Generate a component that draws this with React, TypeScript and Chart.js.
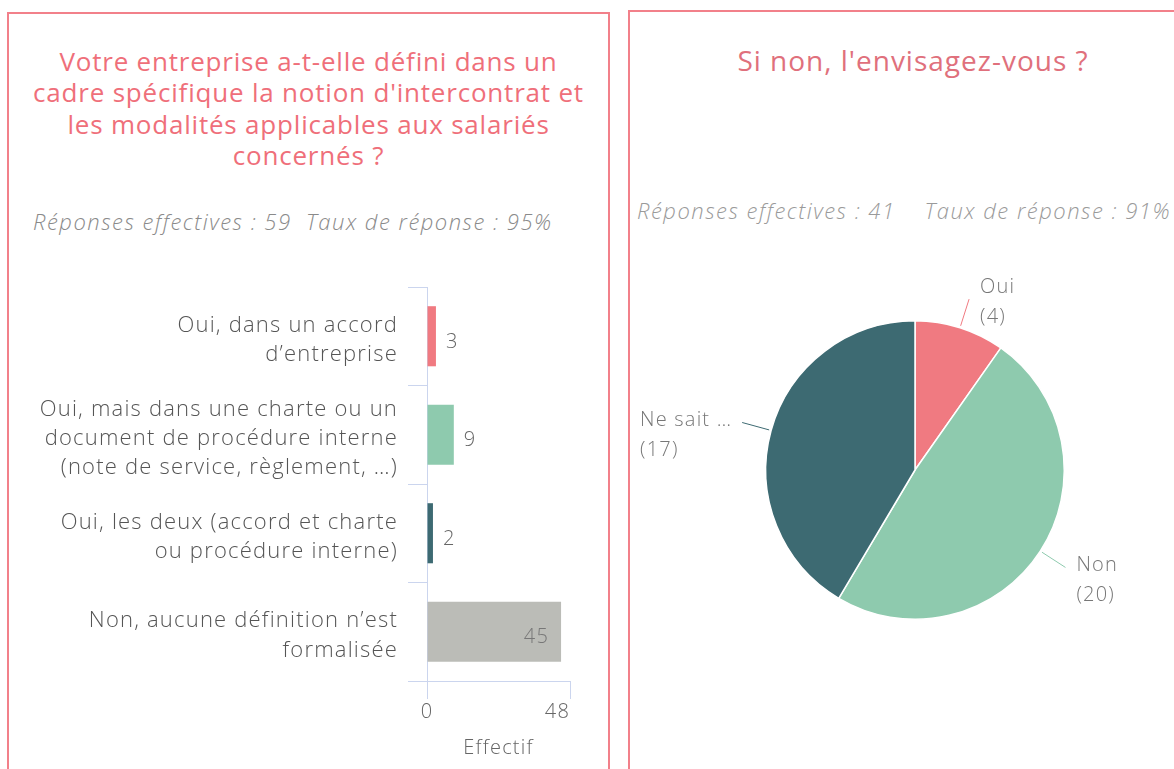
import React, { useEffect, useRef } from "react";
import { Chart, registerables } from "chart.js";

Chart.register(...registerables);

// ---------- data ----------
const barTitleLines = [
  "Votre entreprise a-t-elle défini dans un",
  "cadre spécifique la notion d'intercontrat et",
  "les modalités applicables aux salariés",
  "concernés ?",
];
const barSubtitle = "Réponses effectives : 59  Taux de réponse : 95%";
const barCategories = [
  ["Oui, dans un accord", "d’entreprise"],
  ["Oui, mais dans une charte ou un", "document de procédure interne", "(note de service, règlement, …)"],
  ["Oui, les deux (accord et charte", "ou procédure interne)"],
  ["Non, aucune définition n’est", "formalisée"],
];
const barValues = [3, 9, 2, 45];
const barColors = ["#f07a81", "#8ecaae", "#3d6a72", "#bbbcb7"];
const barAxisMax = 48;
const barAxisTicks = [0, 48];
const barAxisTitle = "Effectif";

const pieTitle = "Si non, l'envisagez-vous ?";
const pieSubtitle = "Réponses effectives : 41    Taux de réponse : 91%";
const pieCategories = ["Oui", "Non", "Ne sait …"];
const pieValues = [4, 20, 17];
const pieColors = ["#f07a81", "#8ecaae", "#3d6a72"];

// ---------- styles ----------
const FONT = "'Open Sans', Lato, sans-serif";
const AXIS_COLOR = "#cbd5ee";
const PANEL_BORDER = "#f2808a";

const makeSpacing = (px: string) => {
  const set = (chart: any) => {
    try {
      chart.ctx.letterSpacing = px;
    } catch (e) {}
  };
  return {
    id: "letterSpacing",
    afterInit: set,
    beforeUpdate: set,
    beforeDraw: set,
  };
};

const barValueLabels = {
  id: "barValueLabels",
  afterDatasetsDraw(chart: any) {
    const ctx = chart.ctx;
    const meta = chart.getDatasetMeta(0);
    const values = chart.data.datasets[0].data;
    ctx.save();
    ctx.font = `300 20px ${FONT}`;
    ctx.textBaseline = "middle";
    meta.data.forEach((bar: any, i: number) => {
      const txt = String(values[i]);
      const w = ctx.measureText(txt).width;
      if (bar.x + 10 + w <= chart.chartArea.right) {
        ctx.textAlign = "left";
        ctx.fillStyle = "#666";
        ctx.fillText(txt, bar.x + 10, bar.y + 6);
      } else {
        ctx.textAlign = "right";
        ctx.fillStyle = "#777";
        ctx.fillText(txt, bar.x - 12, bar.y + 6);
      }
    });
    ctx.restore();
  },
};

const xTickLabels = {
  id: "xTickLabels",
  afterDraw(chart: any) {
    const ctx = chart.ctx;
    const scale = chart.scales.x;
    ctx.save();
    ctx.font = `300 20px ${FONT}`;
    ctx.fillStyle = "#666";
    ctx.textBaseline = "middle";
    scale.ticks.forEach((t: any, i: number) => {
      const px = scale.getPixelForValue(t.value);
      ctx.textAlign = i === scale.ticks.length - 1 && i > 0 ? "right" : "center";
      ctx.fillText(String(t.value), px, chart.chartArea.bottom + 31);
    });
    ctx.restore();
  },
};

const pieLabels = {
  id: "pieLabels",
  afterDatasetsDraw(chart: any) {
    const ctx = chart.ctx;
    const meta = chart.getDatasetMeta(0);
    const ds = chart.data.datasets[0];
    ctx.save();
    ctx.font = `300 20px ${FONT}`;
    ctx.textBaseline = "middle";
    ctx.textAlign = "left";
    meta.data.forEach((arc: any, i: number) => {
      const { x, y, startAngle, endAngle, outerRadius } = arc.getProps(
        ["x", "y", "startAngle", "endAngle", "outerRadius"],
        true
      );
      const mid = (startAngle + endAngle) / 2;
      const c = Math.cos(mid);
      const s = Math.sin(mid);
      const x1 = x + c * (outerRadius + 2);
      const y1 = y + s * (outerRadius + 2);
      const x2 = x + c * (outerRadius + 30);
      const y2 = y + s * (outerRadius + 30);
      ctx.strokeStyle = ds.backgroundColor[i];
      ctx.lineWidth = 1;
      ctx.beginPath();
      ctx.moveTo(x1, y1);
      ctx.lineTo(x2, y2);
      ctx.stroke();
      const lines = [String(chart.data.labels[i]), `(${ds.data[i]})`];
      const maxW = Math.max(...lines.map((l) => ctx.measureText(l).width));
      const tx = c >= 0 ? x2 + 11 : x2 - 10 - maxW;
      const ty = y2 - 2 - (y2 < y - outerRadius ? 10 : 0);
      ctx.fillStyle = "#777";
      lines.forEach((l, k) => ctx.fillText(l, tx, ty + k * 30));
    });
    ctx.restore();
  },
};

function BarChart() {
  const ref = useRef<HTMLCanvasElement | null>(null);
  useEffect(() => {
    if (!ref.current) return;
    const chart = new Chart(ref.current, {
      type: "bar",
      data: {
        labels: barCategories as any,
        datasets: [
          {
            data: barValues,
            backgroundColor: barColors,
            borderWidth: 0,
            barPercentage: 0.61,
            categoryPercentage: 1,
          },
        ],
      },
      options: {
        indexAxis: "y",
        animation: false,
        responsive: false,
        maintainAspectRatio: false,
        layout: { padding: { top: 17, right: 30, left: 0, bottom: 0 } },
        plugins: { legend: { display: false }, tooltip: { enabled: false } },
        scales: {
          y: {
            grid: { drawOnChartArea: false, tickLength: 19, color: AXIS_COLOR, offset: true },
            border: { color: AXIS_COLOR },
            ticks: {
              font: { family: FONT, size: 22, weight: "300", lineHeight: 1.32 },
              color: "#555",
              padding: 10,
              labelOffset: 4,
            },
            afterFit: (s: any) => {
              s.width = 407;
              s.paddingTop = 0;
              s.paddingBottom = 0;
            },
          },
          x: {
            min: 0,
            max: barAxisMax,
            afterBuildTicks: (s: any) => {
              s.ticks = barAxisTicks.map((v) => ({ value: v }));
            },
            grid: { drawOnChartArea: false, tickLength: 18, color: AXIS_COLOR },
            border: { color: AXIS_COLOR },
            ticks: { display: false },
            title: {
              display: true,
              text: barAxisTitle,
              color: "#666",
              font: { family: FONT, size: 20, weight: "300", lineHeight: 1.2 },
              padding: { top: 0, bottom: 9 },
            },
            afterFit: (s: any) => {
              s.height = 88;
              s.paddingLeft = 0;
              s.paddingRight = 0;
            },
          },
        },
      } as any,
      plugins: [makeSpacing("1.2px"), barValueLabels, xTickLabels],
    });
    return () => chart.destroy();
  }, []);
  return (
    <canvas
      ref={ref}
      width={580}
      height={499}
      style={{ position: "absolute", left: 20, top: 270, width: 580, height: 499 }}
    />
  );
}

function PieChart() {
  const ref = useRef<HTMLCanvasElement | null>(null);
  useEffect(() => {
    if (!ref.current) return;
    const chart = new Chart(ref.current, {
      type: "pie",
      data: {
        labels: pieCategories,
        datasets: [
          {
            data: pieValues,
            backgroundColor: pieColors,
            borderColor: "#ffffff",
            borderWidth: 1.5,
          },
        ],
      },
      options: {
        animation: false,
        responsive: false,
        maintainAspectRatio: false,
        layout: { padding: { left: 135, right: 109, top: 70, bottom: 70 } },
        plugins: { legend: { display: false }, tooltip: { enabled: false } },
      } as any,
      plugins: [makeSpacing("1.2px"), pieLabels],
    });
    return () => chart.destroy();
  }, []);
  return (
    <canvas
      ref={ref}
      width={544}
      height={440}
      style={{ position: "absolute", left: 630, top: 250, width: 544, height: 440 }}
    />
  );
}

export default function App() {
  return (
    <div
      style={{
        position: "fixed",
        left: 0,
        top: 0,
        width: 1174,
        height: 769,
        overflow: "hidden",
        background: "#fff",
        fontFamily: FONT,
      }}
    >
      <div
        style={{
          position: "absolute",
          left: 7,
          top: 12,
          width: 603,
          height: 800,
          boxSizing: "border-box",
          border: `2px solid ${PANEL_BORDER}`,
        }}
      />
      <div
        style={{
          position: "absolute",
          left: 628,
          top: 10,
          width: 600,
          height: 800,
          boxSizing: "border-box",
          border: `2px solid ${PANEL_BORDER}`,
        }}
      />
      <div
        style={{
          position: "absolute",
          left: 7,
          top: 46,
          width: 603,
          textAlign: "center",
          fontSize: 26,
          letterSpacing: "0.8px",
          lineHeight: "31.3px",
          color: "#ef6f7a",
        }}
      >
        {barTitleLines.map((l, i) => (
          <div key={i}>{l}</div>
        ))}
      </div>
      <div
        style={{
          position: "absolute",
          left: 33,
          top: 206,
          whiteSpace: "pre",
          fontStyle: "italic",
          fontWeight: 300,
          fontSize: 22,
          letterSpacing: "1.5px",
          lineHeight: "30px",
          color: "#8a8a8a",
        }}
      >
        {barSubtitle}
      </div>
      <div
        style={{
          position: "absolute",
          left: 628,
          top: 44,
          width: 570,
          textAlign: "center",
          fontSize: 28,
          letterSpacing: "1px",
          lineHeight: "32px",
          color: "#e0707c",
        }}
      >
        {pieTitle}
      </div>
      <div
        style={{
          position: "absolute",
          left: 637,
          top: 195,
          whiteSpace: "pre",
          fontStyle: "italic",
          fontWeight: 300,
          fontSize: 22,
          letterSpacing: "1.5px",
          lineHeight: "30px",
          color: "#9a9a9a",
        }}
      >
        {pieSubtitle}
      </div>
      <BarChart />
      <PieChart />
    </div>
  );
}
